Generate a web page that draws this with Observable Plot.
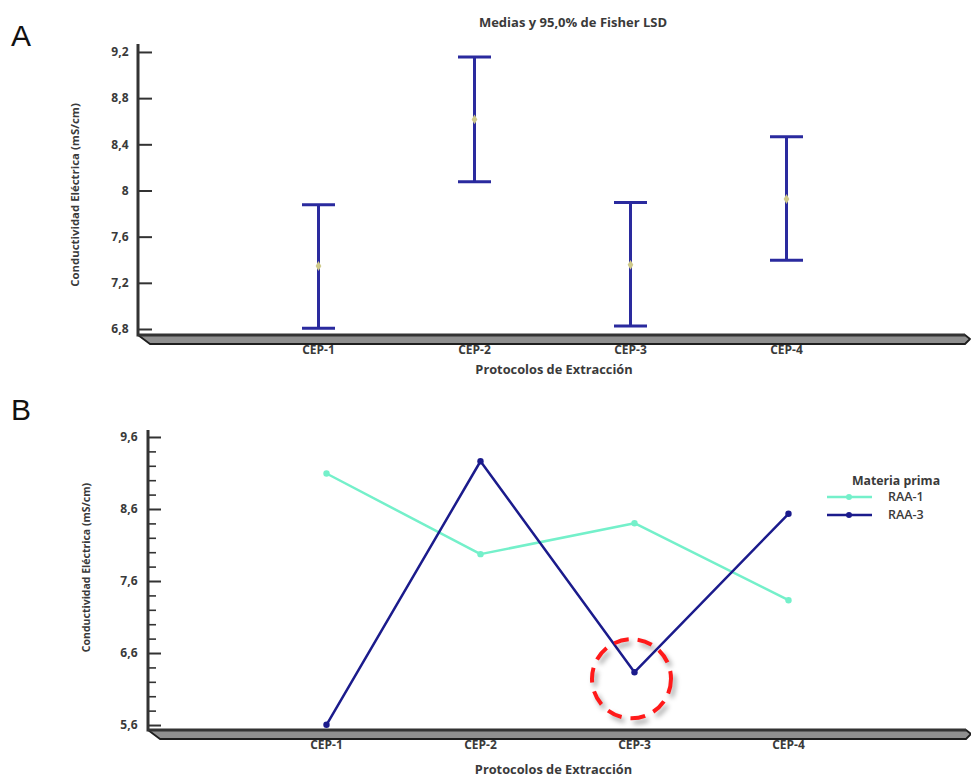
<!DOCTYPE html>
<html>
<head>
<meta charset="utf-8">
<script src="https://cdn.jsdelivr.net/npm/d3@7"></script>
<script src="https://cdn.jsdelivr.net/npm/@observablehq/plot@0.6"></script>
<style>
  body { margin: 0; background: #fff; }
  #wrap { position: relative; width: 971px; height: 782px; overflow: hidden; background: #fff; }
  .panel { position: absolute; left: 0; }
  .tag { position: absolute; left: 11px; font: 30px "Liberation Sans", Arial, sans-serif; color: #111; line-height: 1; }
</style>
</head>
<body>
<div id="wrap">
  <div id="pa" class="panel" style="top:0"></div>
  <div id="pb" class="panel" style="top:395px"></div>
  <div class="tag" style="top:21px">A</div>
  <div class="tag" style="top:395px">B</div>
</div>
<script>
// Panel A: means with 95% Fisher LSD intervals
const protocols = ["CEP-1", "CEP-2", "CEP-3", "CEP-4"];
const means = [7.35, 8.62, 7.36, 7.93];
const lsdLower = [6.81, 8.08, 6.83, 7.40];
const lsdUpper = [7.88, 9.16, 7.90, 8.47];
const ticksA = [6.8, 7.2, 7.6, 8, 8.4, 8.8, 9.2];

// Panel B: interaction by raw material
const materials = ["RAA-1", "RAA-3"];
const raa1 = [9.10, 7.98, 8.41, 7.34];
const raa3 = [5.61, 9.27, 6.34, 8.54];
const ticksB = [5.6, 6.6, 7.6, 8.6, 9.6];
const minorTicksB = [5.8, 6.0, 6.2, 6.4, 6.8, 7.0, 7.2, 7.4, 7.8, 8.0, 8.2, 8.4, 8.8, 9.0, 9.2, 9.4];
const highlight = [{protocol: "CEP-3", value: 6.25}];

const materialColors = ["#74f0ca", "#1b1b8c"];
const ink = "#333";
const textInk = "#3a3a3a";
const fmt = d => String(d).replace(".", ",");
const font = {fontFamily: "'Open Sans', sans-serif", fontSize: "12px", fontWeight: 700, color: textInk, background: "transparent"};

const intervals = protocols.map((p, i) => ({protocol: p, mean: means[i], lo: lsdLower[i], hi: lsdUpper[i]}));
const lines = materials.flatMap((m, k) => protocols.map((p, i) => ({material: m, protocol: p, value: [raa1, raa3][k][i]})));

// Horizontal cap for the interval whiskers
const capSymbol = {draw(context) { context.moveTo(-16.5, 0); context.lineTo(16.5, 0); }};

// Axis frame with the raised base band
function drawFrame(svg, {left, right, top, bottom}) {
  const g = d3.select(svg).append("g");
  g.append("path")
    .attr("d", `M${left},${bottom}L${right},${bottom}L${right + 5},${bottom + 4}L${right},${bottom + 9}L${left + 12},${bottom + 9}Z`)
    .attr("fill", "#8f8f8f").attr("stroke", "#1e1e1e").attr("stroke-width", 1.8).attr("stroke-linejoin", "round");
  g.append("path")
    .attr("d", `M${left},${top}L${left},${bottom}L${right},${bottom}`)
    .attr("fill", "none").attr("stroke", ink).attr("stroke-width", 3);
}

// ---------- Panel A ----------
{
  const W = 971, H = 390, mL = 138, mR = 6, mT = 44, mB = 55;
  const frameW = W - mL - mR;
  const plot = Plot.plot({
    width: W, height: H, marginLeft: mL, marginRight: mR, marginTop: mT, marginBottom: mB,
    style: font,
    x: {type: "point", domain: protocols, padding: 1.14, axis: null},
    y: {domain: [6.748, 9.269], axis: null},
    marks: [
      Plot.ruleY(ticksA, {y: d => d, insetRight: frameW - 14, stroke: ink, strokeWidth: 2}),
      Plot.axisY(ticksA, {tickSize: 0, tickPadding: 10, tickFormat: fmt, fill: textInk, label: null}),
      Plot.axisX(protocols, {tickSize: 0, tickPadding: 10, fill: textInk, label: null}),
      Plot.ruleX(intervals, {x: "protocol", y1: "lo", y2: "hi", stroke: "#2a2a9e", strokeWidth: 3}),
      Plot.dot(intervals, {x: "protocol", y: "hi", symbol: capSymbol, fill: "none", stroke: "#2a2a9e", strokeWidth: 3}),
      Plot.dot(intervals, {x: "protocol", y: "lo", symbol: capSymbol, fill: "none", stroke: "#2a2a9e", strokeWidth: 3}),
      Plot.dot(intervals, {x: "protocol", y: "mean", symbol: "diamond", r: 3, fill: "#cfc98a"}),
      Plot.text(["Medias y 95,0% de Fisher LSD"], {frameAnchor: "top", dx: 21, dy: -27, fontSize: 13, fill: textInk}),
      Plot.text(["Conductividad Eléctrica (mS/cm)"], {frameAnchor: "left", textAnchor: "middle", rotate: -90, dx: -63, dy: 5, fontSize: 11.4, fill: textInk}),
      Plot.text(["Protocolos de Extracción"], {frameAnchor: "bottom", dy: 38, dx: 2, fontSize: 12.8, fill: textInk})
    ]
  });
  drawFrame(plot, {left: mL, right: W - mR, top: mT, bottom: H - mB});
  document.getElementById("pa").append(plot);
}

// ---------- Panel B ----------
{
  const W = 971, H = 387, mL = 148, mR = 5, mT = 35, mB = 52;
  const frameW = W - mL - mR;
  const plot = Plot.plot({
    width: W, height: H, marginLeft: mL, marginRight: mR, marginTop: mT, marginBottom: mB,
    style: font,
    x: {type: "point", domain: protocols, padding: 1.14, axis: null},
    y: {domain: [5.531, 9.697], axis: null},
    color: {domain: materials, range: materialColors},
    marks: [
      Plot.ruleY(minorTicksB, {y: d => d, insetRight: frameW - 8, stroke: ink, strokeWidth: 1.6}),
      Plot.ruleY(ticksB, {y: d => d, insetRight: frameW - 13, stroke: ink, strokeWidth: 2}),
      Plot.axisY(ticksB, {tickSize: 0, tickPadding: 11, tickFormat: fmt, fill: textInk, label: null}),
      Plot.axisX(protocols, {tickSize: 0, tickPadding: 10, fill: textInk, label: null}),
      Plot.line(lines, {x: "protocol", y: "value", z: "material", stroke: "material", strokeWidth: 2.5}),
      Plot.dot(lines, {x: "protocol", y: "value", fill: "material", r: 3.2}),
      Plot.dot(highlight, {x: "protocol", y: "value", r: 39.5, dx: -3, fill: "none", stroke: "#ff1a1a", strokeWidth: 4, strokeDasharray: "15,9", className: "hl"}),
      Plot.text(["Conductividad Eléctrica (mS/cm)"], {frameAnchor: "left", textAnchor: "middle", rotate: -90, dx: -62, dy: -13, fontSize: 10.5, fill: textInk}),
      Plot.text(["Protocolos de Extracción"], {frameAnchor: "bottom", dy: 43, dx: -4, fontSize: 12.8, fill: textInk})
    ]
  });
  drawFrame(plot, {left: mL, right: W - mR, top: mT, bottom: H - mB});
  d3.select(plot).selectAll(".hl circle").style("filter", "drop-shadow(3px 4px 2.5px rgba(0,0,0,0.35))");

  // Legend
  const lg = d3.select(plot).append("g").attr("font-family", "'Open Sans', sans-serif");
  lg.append("text").attr("x", 896).attr("y", 86).attr("text-anchor", "middle").attr("dy", "0.35em")
    .attr("font-size", 12.3).attr("font-weight", 700).attr("fill", textInk).text("Materia prima");
  materials.forEach((m, k) => {
    const y = 102 + k * 18;
    lg.append("line").attr("x1", 827).attr("x2", 872).attr("y1", y).attr("y2", y)
      .attr("stroke", materialColors[k]).attr("stroke-width", 2.5);
    lg.append("circle").attr("cx", 849).attr("cy", y).attr("r", 3).attr("fill", materialColors[k]);
    lg.append("text").attr("x", 888).attr("y", y).attr("dy", "0.35em").attr("text-anchor", "start")
      .attr("font-size", 12.5).attr("font-weight", 600).attr("fill", textInk).text(m);
  });
  document.getElementById("pb").append(plot);
}
</script>
</body>
</html>
